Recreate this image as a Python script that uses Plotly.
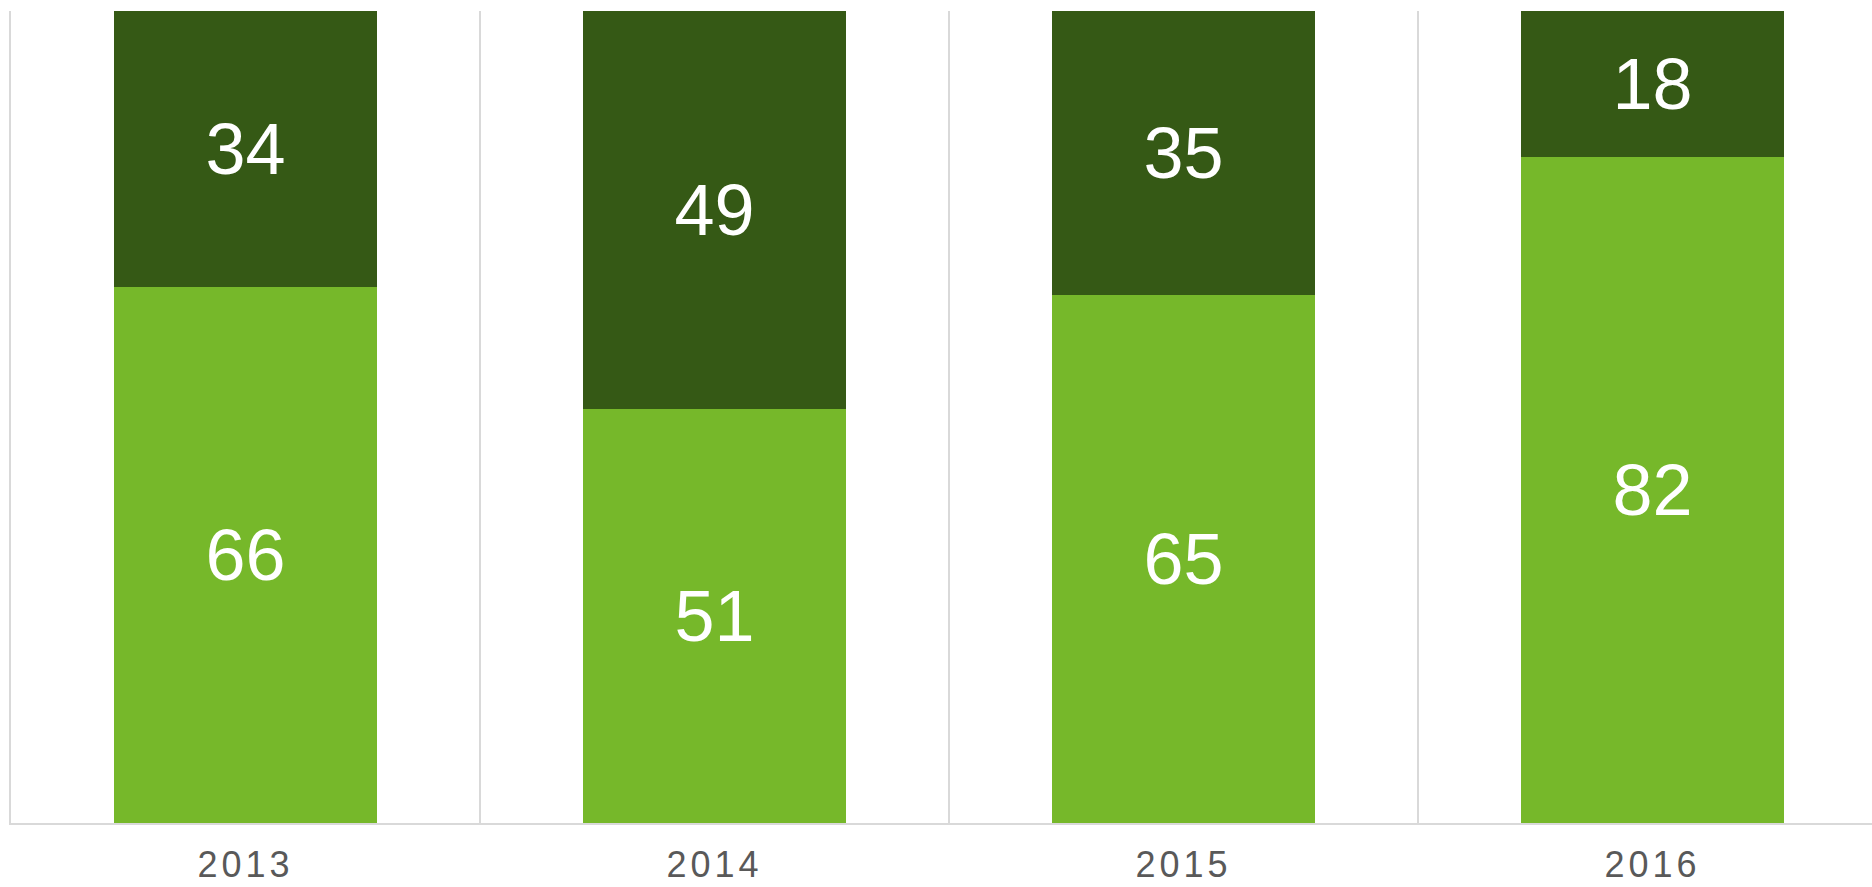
import plotly.graph_objects as go

years = ["2013", "2014", "2015", "2016"]
lower_values = [66, 51, 65, 82]
upper_values = [34, 49, 35, 18]

light_green = "#76b82a"
dark_green = "#355915"
grid_color = "#d9d9d9"
font_family = "Arial, Liberation Sans, sans-serif"

fig = go.Figure()
fig.add_trace(go.Bar(
    x=years, y=lower_values, marker=dict(color=light_green, line=dict(width=0)),
    text=[str(v) for v in lower_values], textposition="inside", insidetextanchor="middle",
    textfont=dict(color="white", size=72, family=font_family), textangle=0,
    hoverinfo="x+y", showlegend=False,
))
fig.add_trace(go.Bar(
    x=years, y=upper_values, marker=dict(color=dark_green, line=dict(width=0)),
    text=[str(v) for v in upper_values], textposition="inside", insidetextanchor="middle",
    textfont=dict(color="white", size=72, family=font_family), textangle=0,
    hoverinfo="x+y", showlegend=False,
))

fig.update_layout(
    barmode="stack",
    bargap=0.441,
    width=1872, height=887,
    margin=dict(l=11, r=0, t=11, b=64, pad=0),
    paper_bgcolor="white", plot_bgcolor="white",
    font=dict(family=font_family),
    xaxis=dict(
        type="category", range=[-0.5, 3.468], automargin=False,
        tickson="boundaries", showgrid=True, gridcolor=grid_color, gridwidth=2,
        showline=True, linecolor=grid_color, linewidth=2,
        tickmode="array", tickvals=years,
        ticktext=['<span style="letter-spacing:4px">%s</span>' % y for y in years],
        ticks="", tickfont=dict(size=36, color="#595959", family=font_family),
        ticklabelstandoff=9, zeroline=False, fixedrange=True,
    ),
    yaxis=dict(
        range=[0, 100], showgrid=False, zeroline=False, showticklabels=False,
        automargin=False,
        showline=True, linecolor=grid_color, linewidth=2, ticks="", fixedrange=True,
    ),
)

fig.write_html(
    "out.html",
    config={"displayModeBar": False},
    post_script="document.body.style.margin='0';document.body.style.overflow='hidden';",
)
